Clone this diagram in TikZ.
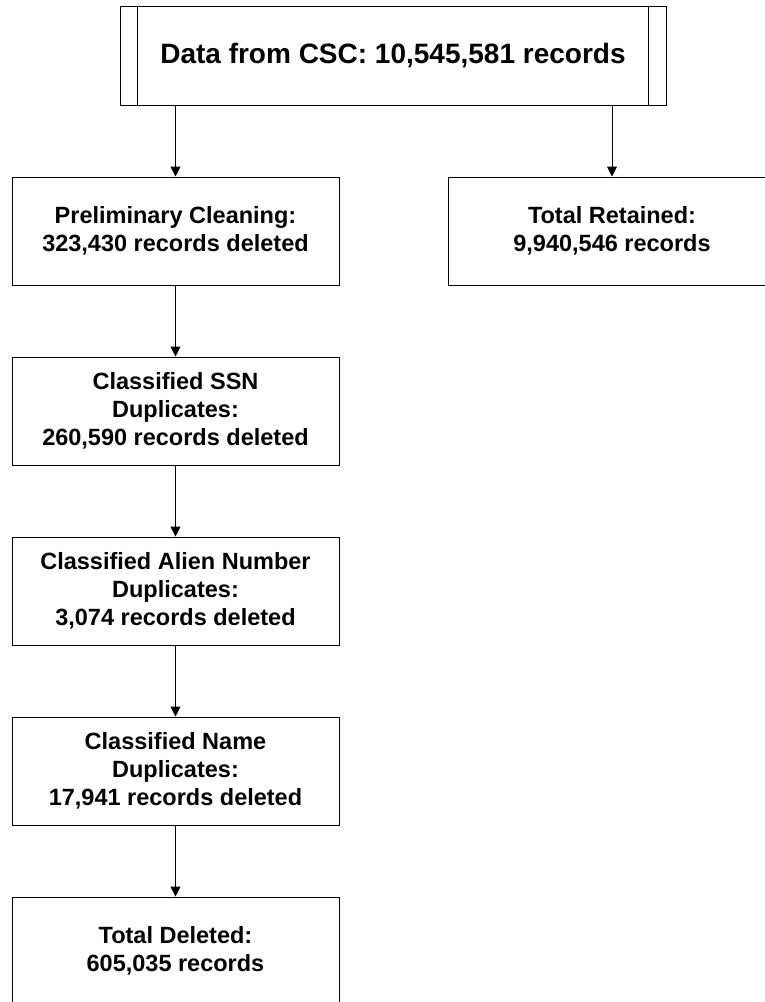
\documentclass[tikz,border=0pt]{standalone}
\usepackage{fontspec}
\setmainfont{Liberation Sans}
\usetikzlibrary{arrows.meta}
\tikzset{
  stagebox/.style={draw=black, line width=1pt, rectangle, minimum width=327pt, minimum height=108pt, inner sep=0pt, align=center, font=\fontsize{23.5}{27.8}\selectfont\bfseries},
  srcbox/.style={draw=black, line width=1pt, rectangle, minimum width=546pt, minimum height=99pt, inner sep=0pt, align=center, font=\fontsize{28}{33}\selectfont\bfseries},
  flow/.style={line width=1pt, -{Triangle[length=10pt,width=10pt]}},
}
\begin{document}
\begin{tikzpicture}[x=1pt,y=-1pt]
\useasboundingbox (0,0) rectangle (765,1002);
\clip (0,0) rectangle (765,1002);
\fill[white] (0,0) rectangle (765,1002);
\node[srcbox] (src) at (393,55.5) {Data from CSC: 10,545,581 records};
\draw[line width=1pt] ([xshift=18pt]src.north west) -- ([xshift=18pt]src.south west);
\draw[line width=1pt] ([xshift=-18pt]src.north east) -- ([xshift=-18pt]src.south east);
\node[stagebox] (b1) at (175.5,231) {Preliminary Cleaning:\\323,430 records deleted};
\node[stagebox] (ret) at (612,231) {Total Retained:\\9,940,546 records};
\node[stagebox] (b2) at (175.5,411) {Classified SSN\\Duplicates:\\260,590 records deleted};
\node[stagebox] (b3) at (175.5,591) {Classified Alien Number\\Duplicates:\\3,074 records deleted};
\node[stagebox] (b4) at (175.5,771) {Classified Name\\Duplicates:\\17,941 records deleted};
\node[stagebox] (b5) at (175.5,951) {Total Deleted:\\605,035 records};
\draw[flow] (b1.north |- src.south) -- (b1.north);
\draw[flow] (ret.north |- src.south) -- (ret.north);
\draw[flow] (b1) -- (b2);
\draw[flow] (b2) -- (b3);
\draw[flow] (b3) -- (b4);
\draw[flow] (b4) -- (b5);
\end{tikzpicture}
\end{document}
